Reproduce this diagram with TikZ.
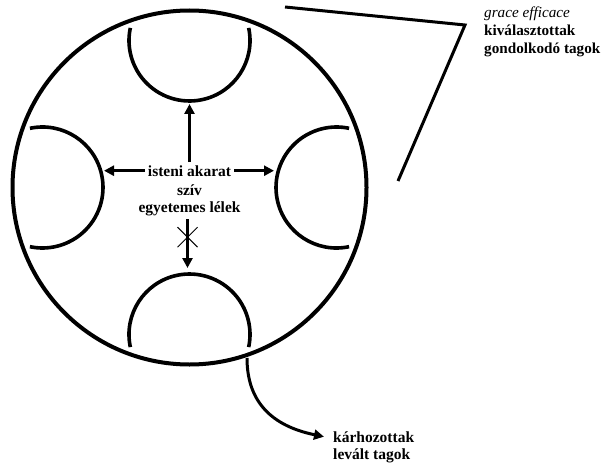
\documentclass[tikz,border=0pt]{standalone}
\usepackage{fontspec}
\setmainfont{Liberation Serif}
\usetikzlibrary{arrows.meta,shapes.misc}

\begin{document}
\begin{tikzpicture}[x=1pt,y=-1pt,
  member/.style={line width=3.6pt},
  ar/.style={line width=3pt,-{Triangle[length=10pt,width=10pt]}},
  lbl/.style={font=\fontsize{15.5}{17.5}\selectfont\bfseries,inner sep=3pt}]
\useasboundingbox (0,0) rectangle (604,465);

% the whole and its four members
\coordinate (o) at (189.5,187.5);
\draw[line width=4pt] (o) circle (177);
\foreach \d in {0,90,180,270}
  \draw[member] (o) ++(\d+180:147) ++(\d-102:60.5) arc (\d-102:\d+102:60.5);

% centre
\node[lbl,anchor=base] (will) at (189.5,176) {isteni akarat};
\node[lbl,anchor=base] (heart) at (189.5,195) {szív};
\node[lbl,anchor=base] (soul) at (189.5,212.5) {egyetemes lélek};

\coordinate (up) at (189.5,104);
\coordinate (lefttip) at (104,0);
\coordinate (righttip) at (274,0);
\coordinate (down) at (187.5,268);
\draw[ar] (will) -- (up);
\draw[ar] (will.west) -- (will.west -| lefttip);
\draw[ar] (will.east) -- (will.east -| righttip);
\draw[ar] (soul.south -| down) -- node[pos=0.37,cross out,draw,line width=1pt,
  minimum size=19pt,inner sep=0pt] (veto) {} (down);

% fallen off
\coordinate (exit) at (247,358);
\node[lbl,anchor=base west] (damned) at (330,442) {kárhozottak};
\node[lbl,anchor=base west] (cut) at (330,459) {levált tagok};
\draw[ar] (exit) .. controls (247,402) and (272,426) .. ([xshift=-6pt]damned.west);

% chosen
\coordinate (b1) at (285,7);
\coordinate (b2) at (465,25);
\coordinate (b3) at (398,181);
\draw[line width=3pt] (b1) -- (b2) -- (b3);
\tikzset{chosen/.style={lbl,anchor=base west,inner sep=1pt,font=\fontsize{15.2}{17.5}\selectfont\bfseries}}
\node[chosen,font=\fontsize{15.2}{17.5}\selectfont\itshape] (elect1) at (483,17.5) {grace efficace};
\node[chosen] (elect2) at (483,36) {kiválasztottak};
\node[chosen] (elect3) at (483,53.5) {gondolkodó tagok};
\end{tikzpicture}
\end{document}
